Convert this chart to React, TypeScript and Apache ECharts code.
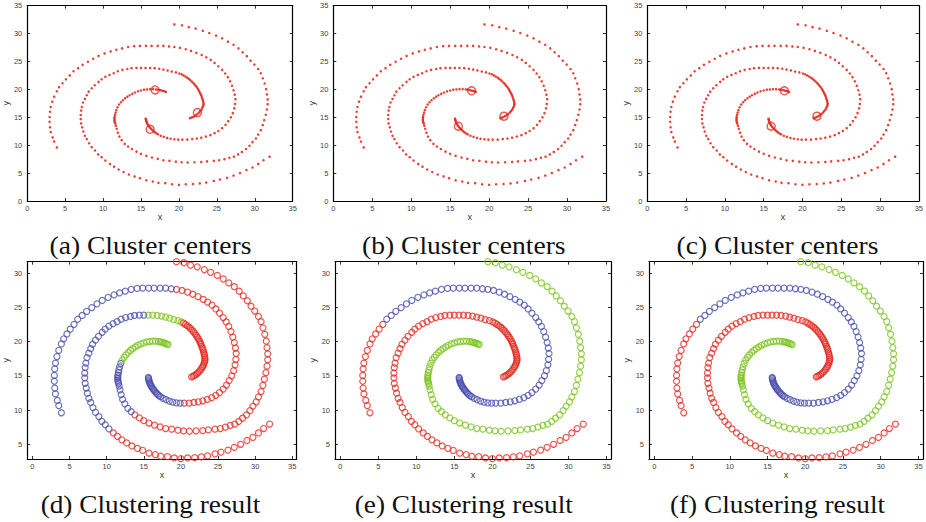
import React, { useEffect, useRef } from "react";
import * as echarts from "echarts";

// ---- Data: three spiral arms, split where the clustering colours change ----
// Arm A: outer end (32, 8) -> inner end (21.5, 14.9)
const armA1: number[][] = [
  [31.95, 7.95], [31.15, 7.3], [30.45, 6.65], [29.7, 6.0], [28.9, 5.55], [28.05, 5.0],
  [27.2, 4.55], [26.35, 4.15], [25.4, 3.85], [24.6, 3.6], [23.6, 3.3], [22.75, 3.15],
  [21.85, 3.05], [20.9, 3.0], [20.0, 2.9], [19.1, 3.0], [18.2, 3.2], [17.3, 3.25],
  [16.55, 3.5], [15.7, 3.7], [14.85, 4.1], [14.15, 4.4], [13.4, 4.75], [12.7, 5.2],
  [12.05, 5.65], [11.45, 6.15], [10.9, 6.65],
];
const armA2: number[][] = [
  [10.3, 7.25], [9.8, 7.85], [9.35, 8.35], [8.95, 9.05], [8.5, 9.65], [8.15, 10.35],
  [7.85, 11.1], [7.6, 11.7], [7.4, 12.45], [7.25, 13.2], [7.1, 13.9], [7.05, 14.7],
  [7.05, 15.4], [7.1, 16.2], [7.2, 16.85], [7.35, 17.65], [7.6, 18.3], [7.85, 18.95],
  [8.1, 19.6], [8.5, 20.2], [8.9, 20.75], [9.4, 21.35], [9.8, 21.8], [10.3, 22.25],
  [10.85, 22.6], [11.4, 22.9], [11.95, 23.25], [12.55, 23.5], [13.2, 23.65], [13.75, 23.8],
  [14.4, 23.85], [15.0, 23.85],
];
const armA3: number[][] = [
  [15.6, 23.85], [16.2, 23.85], [16.8, 23.8], [17.4, 23.7], [17.95, 23.55], [18.5, 23.4],
  [19.05, 23.2], [19.6, 23.05], [20.05, 22.85],
];
const armA4: number[][] = [
  [20.35, 22.7], [20.6, 22.5], [20.85, 22.3], [21.1, 22.1], [21.3, 21.9], [21.5, 21.65],
  [21.7, 21.4], [21.9, 21.15], [22.05, 20.9], [22.2, 20.65], [22.35, 20.4], [22.5, 20.1],
  [22.6, 19.85], [22.7, 19.6], [22.8, 19.3], [22.9, 19.05], [22.98, 18.8], [23.05, 18.5],
  [23.12, 18.2], [23.18, 17.95], [23.22, 17.65], [23.25, 17.4], [23.22, 17.15], [23.15, 16.9],
  [23.05, 16.6], [22.95, 16.35], [22.8, 16.1], [22.65, 15.85], [22.45, 15.6], [22.25, 15.4],
  [22.05, 15.2], [21.85, 15.05], [21.65, 14.95], [21.45, 14.85],
];
// Arm B: outer end (19.4, 31.65) -> inner end (18.3, 19.5)
const armB1: number[][] = [
  [19.4, 31.65], [20.4, 31.5], [21.3, 31.15], [22.2, 30.9], [23.15, 30.5], [24.0, 30.1],
  [24.9, 29.65], [25.7, 29.15], [26.45, 28.55], [27.2, 28.0], [27.85, 27.35], [28.4, 26.65],
  [28.95, 25.95], [29.45, 25.15], [29.95, 24.45], [30.45, 23.65], [30.8, 22.9], [31.05, 22.0],
  [31.3, 21.05], [31.5, 20.05], [31.6, 19.1], [31.7, 18.2], [31.7, 17.35], [31.6, 16.4],
  [31.45, 15.45], [31.25, 14.5], [31.05, 13.6], [30.8, 12.7], [30.45, 11.9], [30.15, 11.2],
  [29.7, 10.55], [29.3, 9.9], [28.85, 9.3], [28.3, 8.8], [27.8, 8.35], [27.25, 7.95],
  [26.65, 7.75], [26.0, 7.5], [25.3, 7.3], [24.6, 7.2], [23.7, 7.1], [22.95, 7.0],
  [22.05, 6.95], [21.15, 6.9], [20.35, 6.95], [19.6, 7.05], [18.75, 7.2], [17.95, 7.3],
  [17.2, 7.55], [16.45, 7.8], [15.7, 8.1], [15.0, 8.45], [14.4, 8.85], [13.8, 9.3],
];
const armB2: number[][] = [
  [13.3, 9.75], [12.85, 10.25], [12.45, 10.9], [12.15, 11.55], [11.95, 12.25], [11.8, 12.95],
  [11.68, 13.5], [11.6, 13.9], [11.55, 14.1], [11.5, 14.35], [11.5, 14.6], [11.5, 14.85],
  [11.52, 15.1], [11.58, 15.45], [11.65, 15.85], [11.75, 16.3], [11.9, 16.8],
];
const armB3: number[][] = [
  [12.1, 17.3], [12.35, 17.7], [12.6, 18.05], [12.9, 18.4], [13.2, 18.7], [13.5, 18.95],
  [13.85, 19.2], [14.2, 19.45], [14.6, 19.65], [15.0, 19.8], [15.4, 19.95], [15.8, 20.0],
  [16.2, 20.05], [16.6, 20.05], [17.0, 20.0], [17.25, 19.95], [17.5, 19.88], [17.7, 19.8],
  [17.9, 19.74], [18.1, 19.65], [18.28, 19.55],
];
// Arm C: outer end (3.9, 9.6) -> inner end (15.6, 14.75)
const armC1: number[][] = [
  [3.9, 9.6], [3.55, 10.65], [3.35, 11.4], [3.1, 12.35], [3.0, 13.2], [2.95, 14.2],
  [2.95, 15.05], [3.0, 16.0], [3.1, 16.85], [3.3, 17.8], [3.55, 18.7], [3.9, 19.65],
  [4.2, 20.4], [4.65, 21.1], [5.1, 21.8], [5.6, 22.5],
];
const armC2: number[][] = [
  [6.1, 23.25], [6.7, 23.8], [7.3, 24.4], [8.0, 24.95], [8.7, 25.5], [9.4, 26.0],
  [10.2, 26.45], [11.0, 26.8], [11.75, 27.1], [12.5, 27.35], [13.3, 27.6], [14.1, 27.75],
  [14.85, 27.8], [15.65, 27.8], [16.4, 27.8], [17.2, 27.8], [17.95, 27.8], [18.7, 27.7],
];
const armC3: number[][] = [
  [19.4, 27.6], [20.15, 27.45], [20.9, 27.2], [21.6, 26.9], [22.3, 26.55], [23.0, 26.15],
  [23.6, 25.75], [24.2, 25.3], [24.7, 24.75], [25.2, 24.15], [25.7, 23.5], [26.1, 22.85],
  [26.45, 22.2], [26.75, 21.45], [27.0, 20.65], [27.2, 19.85], [27.35, 19.05], [27.45, 18.25],
  [27.4, 17.4], [27.3, 16.6], [27.1, 15.75], [26.85, 15.0], [26.5, 14.3], [26.15, 13.65],
  [25.7, 13.05], [25.2, 12.55], [24.7, 12.15], [24.15, 11.8], [23.55, 11.55], [22.95, 11.35],
  [22.35, 11.2], [21.75, 11.1], [21.1, 11.0], [20.45, 11.0],
];
const armC4: number[][] = [
  [19.9, 11.0], [19.4, 11.05], [18.9, 11.15], [18.45, 11.3], [18.0, 11.5], [17.6, 11.7],
  [17.25, 11.95], [17.05, 12.1], [16.85, 12.3], [16.7, 12.45], [16.55, 12.65], [16.4, 12.85],
  [16.3, 13.0], [16.15, 13.2], [16.05, 13.4], [15.95, 13.6], [15.85, 13.8], [15.78, 14.0],
  [15.72, 14.2], [15.68, 14.4], [15.65, 14.6], [15.62, 14.75],
];

// Cluster centres found in panels (a), (b), (c)
const centersA: number[][] = [[16.86, 19.9], [22.43, 15.85], [16.2, 12.85]];
const centersB: number[][] = [[17.75, 19.75], [21.9, 15.2], [16.05, 13.4]];
const centersC: number[][] = [[17.67, 19.75], [21.87, 15.2], [15.97, 13.4]];

const captionsTop = ["(a) Cluster centers", "(b) Cluster centers", "(c) Cluster centers"];
const captionsBottom = ["(d) Clustering result", "(e) Clustering result", "(f) Clustering result"];

const RED = "#e3291f";
const BLUE = "#4b4fae";
const GREEN = "#7ac31d";

const segments: Record<string, number[][]> = {
  A1: armA1, A2: armA2, A3: armA3, A4: armA4,
  B1: armB1, B2: armB2, B3: armB3,
  C1: armC1, C2: armC2, C3: armC3, C4: armC4,
};

const colorsD: Record<string, string> = {
  A1: RED, A2: BLUE, A3: GREEN, A4: RED,
  B1: RED, B2: BLUE, B3: GREEN,
  C1: BLUE, C2: BLUE, C3: RED, C4: BLUE,
};
const colorsE: Record<string, string> = {
  A1: RED, A2: RED, A3: RED, A4: RED,
  B1: GREEN, B2: GREEN, B3: GREEN,
  C1: RED, C2: BLUE, C3: BLUE, C4: BLUE,
};
const colorsF: Record<string, string> = { ...colorsE };

const SANS = "Liberation Sans";

export default function App() {
  const ref = useRef<HTMLDivElement>(null);
  useEffect(() => {
    if (!ref.current) return;
    const chart = echarts.init(ref.current, undefined, { renderer: "svg" });

    const topGrids = [
      { left: 20.7, top: 5.7, width: 272, height: 195.3 },
      { left: 333.3, top: 5.7, width: 272.7, height: 195.3 },
      { left: 647.3, top: 5.7, width: 272.7, height: 195.3 },
    ];
    const bottomGrids = [
      { left: 21.7, top: 261.7, width: 275, height: 197.3 },
      { left: 335, top: 261.7, width: 276, height: 197.3 },
      { left: 649, top: 261.7, width: 274.3, height: 197.3 },
    ];
    const grids = [...topGrids, ...bottomGrids];

    const xAxes: any[] = [];
    const yAxes: any[] = [];
    const series: any[] = [];

    const fmt5 = (v: number) => (Math.abs(v / 5 - Math.round(v / 5)) < 1e-6 ? String(Math.round(v)) : "");

    grids.forEach((g, i) => {
      const isTop = i < 3;
      const xr = isTop ? { min: 0, max: 35, interval: 5 } : { min: -0.7, max: 35.6, splitNumber: 7 };
      const yr = isTop ? { min: 0, max: 35, interval: 5 } : { min: 2.85, max: 31.65, splitNumber: 6 };
      const common = {
        type: "value",
        gridIndex: i,
        splitLine: { show: false },
        axisLine: { show: true, onZero: false, lineStyle: { color: "#000", width: 1.2 } },
        axisTick: { show: true, inside: true, length: 3, lineStyle: { color: "#000", width: 0.8 } },
      };
      xAxes.push({
        ...common, ...xr, position: "bottom",
        name: "x", nameLocation: "middle", nameGap: 11,
        nameTextStyle: { fontFamily: SANS, fontSize: 9, color: "#333" },
        axisLabel: { show: true, fontFamily: SANS, fontSize: 7.5, color: "#444", margin: 3, formatter: fmt5 },
      });
      xAxes.push({ ...common, ...xr, position: "top", axisLabel: { show: false } });
      yAxes.push({
        ...common, ...yr, position: "left",
        name: "y", nameLocation: "middle", nameGap: 12, nameRotate: 90,
        nameTextStyle: { fontFamily: SANS, fontSize: 9, color: "#333" },
        axisLabel: { show: true, fontFamily: SANS, fontSize: 7.5, color: "#444", margin: 5, formatter: fmt5 },
      });
      yAxes.push({ ...common, ...yr, position: "right", axisLabel: { show: false } });
    });

    const allPoints = Object.keys(segments).reduce((acc: number[][], k) => acc.concat(segments[k]), []);
    const centers = [centersA, centersB, centersC];
    for (let i = 0; i < 3; i++) {
      series.push({
        type: "scatter", xAxisIndex: 2 * i, yAxisIndex: 2 * i, silent: true,
        data: allPoints, symbol: "circle", symbolSize: 2.5,
        itemStyle: { color: RED, opacity: 0.9 },
      });
      series.push({
        type: "scatter", xAxisIndex: 2 * i, yAxisIndex: 2 * i, silent: true,
        data: centers[i], symbol: "circle", symbolSize: 8,
        itemStyle: { color: "rgba(0,0,0,0)", borderColor: RED, borderWidth: 1.4 },
      });
    }
    const colorMaps = [colorsD, colorsE, colorsF];
    colorMaps.forEach((cm, j) => {
      const gi = 3 + j;
      Object.keys(segments).forEach((k) => {
        series.push({
          type: "scatter", xAxisIndex: 2 * gi, yAxisIndex: 2 * gi, silent: true,
          data: segments[k], symbol: "circle", symbolSize: 6,
          itemStyle: { color: "rgba(0,0,0,0)", borderColor: cm[k], borderWidth: 1.2 },
        });
      });
    });

    const captionX = [150.5, 463.8, 777.5];
    const graphic: any[] = [];
    captionsTop.forEach((t, i) => {
      graphic.push({
        type: "text", x: captionX[i], y: 245, scaleX: 1.06,
        style: { text: t, x: 0, y: 0, fontFamily: "Liberation Serif", fontSize: 26, fill: "#111", align: "center", verticalAlign: "middle" },
      });
    });
    captionsBottom.forEach((t, i) => {
      graphic.push({
        type: "text", x: captionX[i], y: 504, scaleX: 1.05,
        style: { text: t, x: 0, y: 0, fontFamily: "Liberation Serif", fontSize: 26, fill: "#111", align: "center", verticalAlign: "middle" },
      });
    });

    chart.setOption({
      animation: false,
      backgroundColor: "#fff",
      grid: grids.map((g) => ({ ...g, containLabel: false })),
      xAxis: xAxes,
      yAxis: yAxes,
      series,
      graphic,
    });
    return () => chart.dispose();
  }, []);
  return (
    <div
      ref={ref}
      style={{ position: "fixed", left: 0, top: 0, width: 926, height: 522, background: "#fff" }}
    />
  );
}
